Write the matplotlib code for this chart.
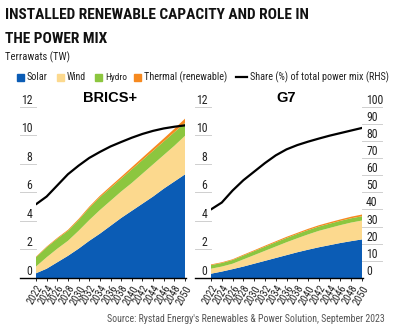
import matplotlib
matplotlib.use("Agg")
import matplotlib.pyplot as plt
from matplotlib import font_manager
from matplotlib.patches import Rectangle
from matplotlib.lines import Line2D
from matplotlib.transforms import blended_transform_factory

# pick a condensed family if one is installed
_fonts = font_manager.fontManager.ttflist
_names = {f.name for f in _fonts}
COND = None
COND_STRETCH = 'normal'
for cand in ['Roboto Condensed', 'Liberation Sans Narrow', 'Open Sans Condensed', 'Arial Narrow']:
    if cand in _names:
        COND = cand
        break
if COND is None and any(f.name == 'DejaVu Sans' and f.stretch in ('condensed', 'semi-condensed') for f in _fonts):
    COND = 'DejaVu Sans'
    COND_STRETCH = 'condensed'
if COND is None:
    COND = 'Roboto' if 'Roboto' in _names else 'DejaVu Sans'

plt.rcParams['font.family'] = [COND, 'DejaVu Sans']
plt.rcParams['font.stretch'] = COND_STRETCH

years = list(range(2022, 2051, 2))
year_labels = [str(y) for y in years]

# BRICS+ (TW)
brics_solar = [0.33, 0.65, 1.1, 1.55, 2.05, 2.6, 3.1, 3.65, 4.2, 4.7, 5.2, 5.7, 6.25, 6.75, 7.25]
brics_wind = [0.47, 0.8, 0.95, 1.05, 1.25, 1.45, 1.65, 1.75, 1.85, 1.95, 2.1, 2.25, 2.35, 2.5, 2.7]
brics_hydro = [0.65, 0.7, 0.7, 0.7, 0.75, 0.85, 0.9, 0.9, 0.9, 0.95, 0.95, 0.95, 0.95, 0.95, 0.9]
brics_thermal = [0.04, 0.05, 0.06, 0.07, 0.08, 0.09, 0.1, 0.12, 0.13, 0.15, 0.17, 0.19, 0.21, 0.24, 0.3]
brics_share = [43, 47.5, 54, 60.5, 65.5, 70, 73.5, 76.7, 79.3, 81.8, 84, 85.8, 87.2, 88.2, 89]

# G7 (TW)
g7_solar = [0.3, 0.45, 0.62, 0.8, 1.0, 1.2, 1.4, 1.6, 1.8, 1.98, 2.15, 2.3, 2.45, 2.58, 2.7]
g7_wind = [0.35, 0.35, 0.38, 0.5, 0.6, 0.7, 0.8, 0.9, 0.98, 1.07, 1.15, 1.2, 1.25, 1.3, 1.32]
g7_hydro = [0.25, 0.25, 0.26, 0.27, 0.28, 0.29, 0.3, 0.3, 0.3, 0.3, 0.3, 0.3, 0.3, 0.3, 0.3]
g7_thermal = [0.05, 0.05, 0.05, 0.06, 0.06, 0.07, 0.07, 0.08, 0.08, 0.09, 0.09, 0.1, 0.1, 0.11, 0.12]
g7_share = [40, 44, 51, 57, 62, 67, 71.5, 75, 77.5, 79.5, 81.3, 83, 84.5, 86, 87.5]

series_names = ['Solar', 'Wind', 'Hydro', 'Thermal (renewable)']
colors = ['#0B5CB5', '#FCD98E', '#8CC63F', '#F6891F']
left_ticks = [0, 2, 4, 6, 8, 10, 12]
right_ticks = list(range(0, 101, 10))

W, H = 400, 333
fig = plt.figure(figsize=(W / 100, H / 100), dpi=100)
fig.patch.set_facecolor('white')
renderer = fig.canvas.get_renderer()


def fx(x):
    return x / W


def fy(y):
    return 1 - y / H


def fit_width(txt, target_px, max_size=None):
    bb = txt.get_window_extent(renderer=renderer)
    size = txt.get_fontsize() * target_px / max(bb.width, 1)
    if max_size is not None:
        size = min(size, max_size)
    txt.set_fontsize(size)


y0, y12 = 278, 106.5
axes_specs = [
    ('BRICS+', 36, 185, brics_solar, brics_wind, brics_hydro, brics_thermal, brics_share, False),
    ('G7', 211, 362, g7_solar, g7_wind, g7_hydro, g7_thermal, g7_share, True),
]

grid_col = '#cfcfcf'
tick_fs = 8.5 if COND_STRETCH == 'condensed' or COND != 'DejaVu Sans' else 8
for name, xl, xr, s, w, h, t, share, show_right in axes_specs:
    ax = fig.add_axes([fx(xl), fy(y0), (xr - xl) / W, (y0 - y12) / H])
    ax.stackplot(years, s, w, h, t, colors=colors, linewidth=0)
    ax.set_xlim(2022, 2050)
    ax.set_ylim(0, 12)
    for sp in ax.spines.values():
        sp.set_visible(False)
    ax.set_yticks(left_ticks)
    ax.set_yticklabels([str(v) for v in left_ticks], fontsize=tick_fs, color='#222222')
    ax.tick_params(axis='y', length=0, pad=2.5)
    for lbl in ax.get_yticklabels():
        lbl.set_va('bottom')
    ax.set_xticks(years)
    ax.set_xticklabels(year_labels, rotation=60, ha='right', rotation_mode='anchor',
                       fontsize=7.5, color='#222222')
    ax.tick_params(axis='x', length=2.5, width=0.6, pad=1.5)
    frac = 16 / (xr - xl)
    btr = blended_transform_factory(ax.transAxes, ax.transData)
    for v in left_ticks[1:]:
        ax.plot([-frac, 0], [v, v], color=grid_col, lw=0.7, transform=btr, clip_on=False)
    ax.plot([-frac, 1.005], [0, 0], color='black', lw=1.0, transform=btr, clip_on=False, zorder=5)
    ax.text(0.5, 12.1, name, transform=btr, ha='center', va='bottom', fontsize=10.5,
            fontweight='bold', family=['Liberation Sans', 'DejaVu Sans'], stretch='normal')

    ax2 = ax.twinx()
    ax2.set_ylim(0, 100)
    ax2.plot(years, share, color='black', lw=1.6, solid_capstyle='round')
    for sp in ax2.spines.values():
        sp.set_visible(False)
    if show_right:
        ax2.set_yticks(right_ticks)
        ax2.set_yticklabels([str(v) for v in right_ticks], fontsize=tick_fs, color='#222222')
        ax2.tick_params(axis='y', length=0, pad=3)
        for lbl in ax2.get_yticklabels():
            lbl.set_va('bottom')
        btr2 = blended_transform_factory(ax2.transAxes, ax2.transData)
        rfrac = 20 / (xr - xl)
        for v in right_ticks[1:]:
            ax2.plot([1, 1 + rfrac], [v, v], color=grid_col, lw=0.7, transform=btr2, clip_on=False)
    else:
        ax2.set_yticks([])

# Title and subtitle
t1 = fig.text(fx(5), fy(15), 'INSTALLED RENEWABLE CAPACITY AND ROLE IN',
              ha='left', va='center', fontsize=14, fontweight='heavy', color='#111111')
fit_width(t1, 305, max_size=15)
t2 = fig.text(fx(5), fy(39), 'THE POWER MIX',
              ha='left', va='center', fontsize=t1.get_fontsize(), fontweight='heavy', color='#111111')
st = fig.text(fx(5), fy(57), 'Terrawats (TW)', ha='left', va='center', fontsize=8.5, color='#222222')
fit_width(st, 65, max_size=9)

# Legend
leg_y = 77
sq = 7
leg_items = [(17, 48, colors[0], 'Solar'), (57, 86, colors[1], 'Wind'), (95, 127, colors[2], 'Hydro'),
             (134, 228, colors[3], 'Thermal (renewable)')]
for x, xe, c, lab in leg_items:
    fig.patches.append(Rectangle((fx(x), fy(leg_y + sq / 2)), sq / W, sq / H, color=c,
                                 transform=fig.transFigure, figure=fig))
    tt = fig.text(fx(x + 10), fy(leg_y), lab, ha='left', va='center', fontsize=8, color='#222222')
    fit_width(tt, xe - (x + 10), max_size=8.5)
fig.lines.append(Line2D([fx(236), fx(247)], [fy(leg_y), fy(leg_y)], color='black', lw=1.6,
                        transform=fig.transFigure, figure=fig))
lt = fig.text(fx(250), fy(leg_y), 'Share (%) of total power mix (RHS)', ha='left', va='center',
              fontsize=8, color='#222222')
fit_width(lt, 139, max_size=8.5)

# Source
src = fig.text(fx(385), fy(319), "Source: Rystad Energy's Renewables & Power Solution, September 2023",
               ha='right', va='center', fontsize=8, color='#555555')
fit_width(src, 279, max_size=9)

fig.savefig('out.png', dpi=100)
